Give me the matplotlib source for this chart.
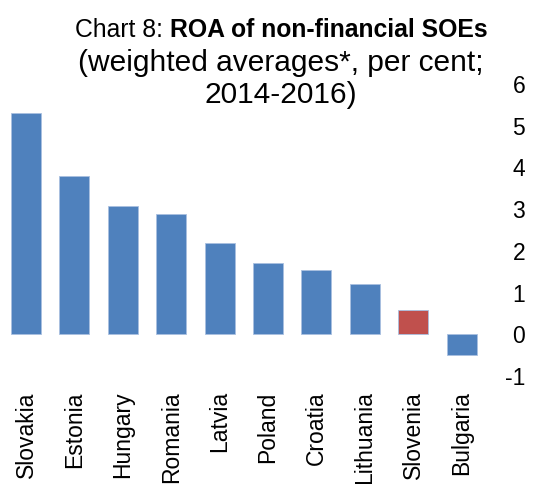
import matplotlib
matplotlib.use("Agg")
import matplotlib.pyplot as plt

countries = ["Slovakia", "Estonia", "Hungary", "Romania", "Latvia", "Poland",
             "Croatia", "Lithuania", "Slovenia", "Bulgaria"]
roa = [5.30, 3.80, 3.08, 2.88, 2.20, 1.70, 1.54, 1.20, 0.58, -0.50]
highlight = "Slovenia"
yticks = [-1, 0, 1, 2, 3, 4, 5, 6]

plt.rcParams['font.family'] = ['Liberation Sans', 'DejaVu Sans']

W, H = 556, 484
fig = plt.figure(figsize=(W / 100, H / 100), dpi=100)
left, right = 1.8 / W, 485.7 / W
bottom, top = 1 - 376 / H, 1 - 84 / H
ax = fig.add_axes([left, bottom, right - left, top - bottom])

colors = ["#C0504D" if c == highlight else "#4F81BD" for c in countries]
x = list(range(len(countries)))
ax.bar(x, roa, width=0.62, color=colors, edgecolor="#A9C0E0", linewidth=0.6)
ax.set_xlim(-0.5, len(countries) - 0.5)
ax.set_ylim(-1, 6)
ax.set_yticks(yticks)
ax.set_yticklabels([str(t) for t in yticks], fontsize=16.5, ha='right')
ax.yaxis.tick_right()
ax.tick_params(axis='y', length=0, pad=28.5)
ax.set_xticks(x)
ax.set_xticklabels(countries, rotation=90, fontsize=16.5, va='top')
ax.tick_params(axis='x', length=0, pad=11)
for s in ax.spines.values():
    s.set_visible(False)

# Title
fig.canvas.draw()
r = fig.canvas.get_renderer()
y1 = 1 - 30 / H
cx = 281 / W
t1 = fig.text(0, y1, "Chart 8: ", fontsize=17.8, va='center', ha='left')
t2 = fig.text(0, y1, "ROA of non-financial SOEs", fontsize=17.8,
              fontweight='bold', va='center', ha='left')
w1 = t1.get_window_extent(r).width / W
w2 = t2.get_window_extent(r).width / W
x0 = cx - (w1 + w2) / 2
t1.set_x(x0)
t2.set_x(x0 + w1)
fig.text(cx, 1 - 63 / H, "(weighted averages*, per cent;", fontsize=21.5,
         va='center', ha='center')
fig.text(cx, 1 - 95 / H, "2014-2016)", fontsize=21.5,
         va='center', ha='center')

fig.savefig("out.png", dpi=100)
